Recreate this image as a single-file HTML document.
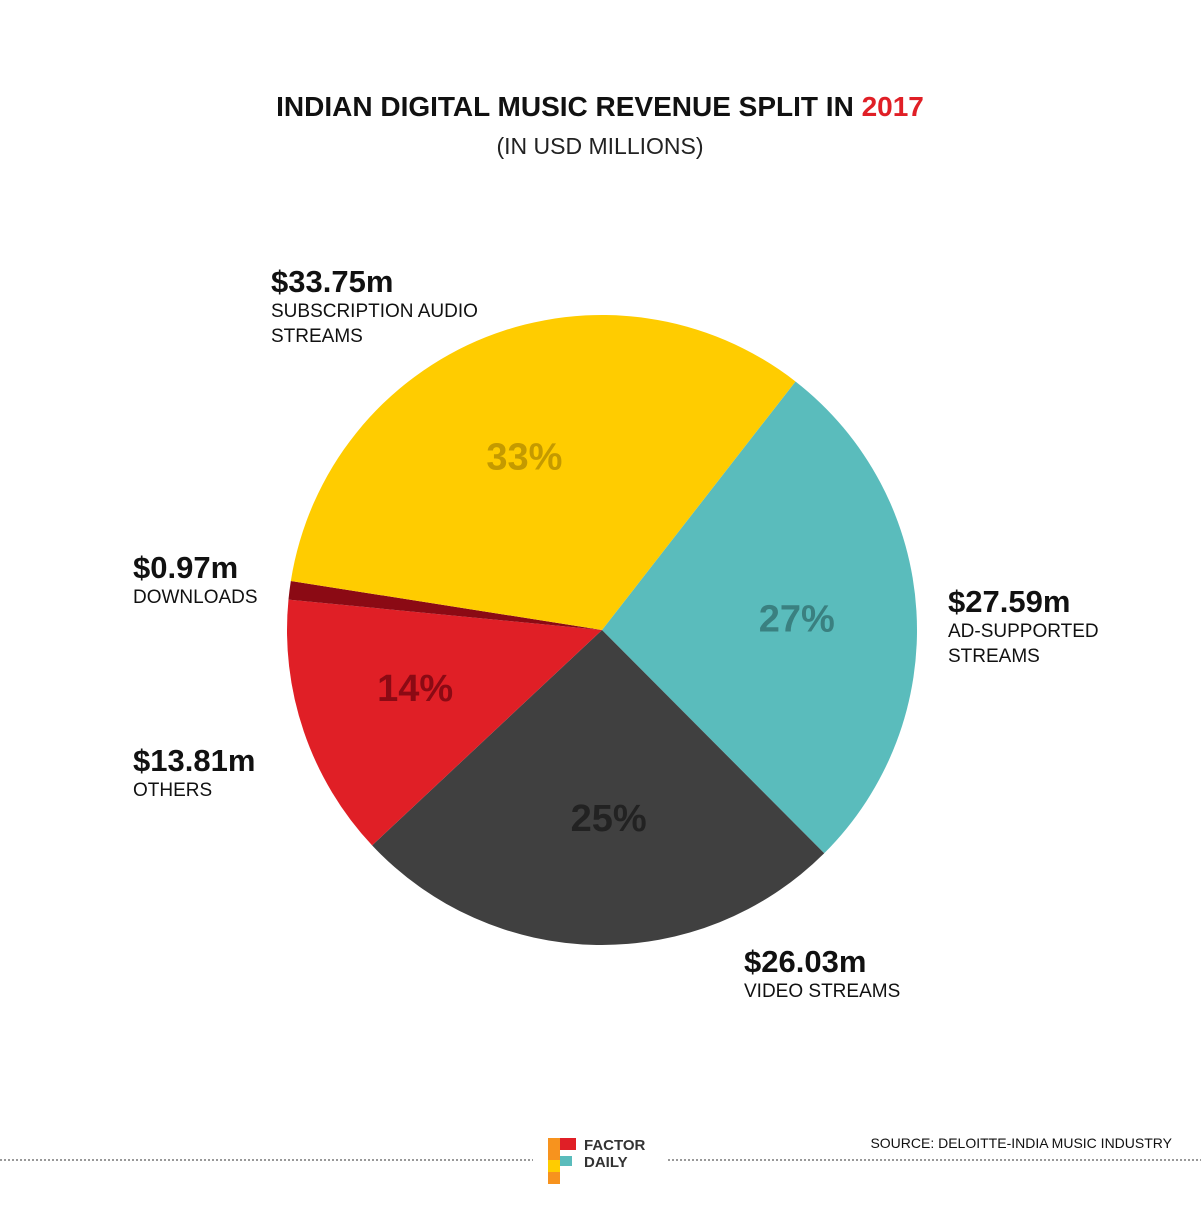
<!DOCTYPE html>
<html><head><meta charset="utf-8"><style>
body{margin:0;background:#fff;font-family:"Liberation Sans",sans-serif}
</style></head><body>
<svg width="1201" height="1200" xmlns="http://www.w3.org/2000/svg">
<text x="600" y="116" text-anchor="middle" font-size="28" font-weight="bold" fill="#111">INDIAN DIGITAL MUSIC REVENUE SPLIT IN <tspan fill="#e01f26">2017</tspan></text>
<text x="600" y="154" text-anchor="middle" font-size="23" fill="#222">(IN USD MILLIONS)</text>
<g id="pie"></g>
<g id="labels"></g>
<line x1="0" y1="1160" x2="533" y2="1160" stroke="#333" stroke-dasharray="2,2"/>
<line x1="668" y1="1160" x2="1201" y2="1160" stroke="#333" stroke-dasharray="2,2"/>
<g>
<rect x="548" y="1138" width="12" height="46" fill="#f7931e"/>
<rect x="560" y="1138" width="16" height="12" fill="#e01f26"/>
<rect x="560" y="1156" width="12" height="10" fill="#5abcbc"/>
<rect x="548" y="1160" width="12" height="12" fill="#fc0"/>
<text x="584" y="1150" font-size="15" font-weight="bold" fill="#333">FACTOR</text>
<text x="584" y="1167" font-size="15" font-weight="bold" fill="#333">DAILY</text>
</g>
<text x="1172" y="1148" text-anchor="end" font-size="14" fill="#111">SOURCE: DELOITTE-INDIA MUSIC INDUSTRY</text>
</svg>
<script>
const categories=["AD-SUPPORTED STREAMS","VIDEO STREAMS","OTHERS","DOWNLOADS","SUBSCRIPTION AUDIO STREAMS"];
const values=[27.59,26.03,13.81,0.97,33.75];
const valueLabels=["$27.59m","$26.03m","$13.81m","$0.97m","$33.75m"];
const pctLabels=["27%","25%","14%","","33%"];
const colors=["#5abcbc","#404040","#e01f26","#8b0a14","#ffcc00"];
const pctColors=["#3a8080","#222","#8b0a14","","#c49a00"];
const pctShift=[[3,0],[10,-4],[-5,-4],[0,0],[-7,5]];
const ns="http://www.w3.org/2000/svg";
const cx=602,cy=630,R=315,start=37.9;
const total=values.reduce((a,b)=>a+b,0);
function pt(a,r){const t=a*Math.PI/180;return [cx+r*Math.sin(t),cy-r*Math.cos(t)];}
const pie=document.getElementById('pie');
let a=start;
values.forEach((v,i)=>{
 const sw=v/total*360,a2=a+sw;
 const p1=pt(a,R),p2=pt(a2,R);
 const p=document.createElementNS(ns,'path');
 p.setAttribute('d',`M${cx},${cy}L${p1[0]},${p1[1]}A${R},${R} 0 ${sw>180?1:0} 1 ${p2[0]},${p2[1]}Z`);
 p.setAttribute('fill',colors[i]);
 
 
 pie.appendChild(p);
 if(pctLabels[i]){
  const m=pt(a+sw/2,R*0.61);
  const t=document.createElementNS(ns,'text');
  t.setAttribute('x',m[0]+pctShift[i][0]);t.setAttribute('y',m[1]+13+pctShift[i][1]);
  t.setAttribute('text-anchor','middle');t.setAttribute('font-size','38');t.setAttribute('font-weight','bold');
  t.setAttribute('fill',pctColors[i]);t.textContent=pctLabels[i];
  
  
  pie.appendChild(t);
 }
 a=a2;
});
const labelPos=[[948,612,["AD-SUPPORTED","STREAMS"]],[744,972,["VIDEO STREAMS"]],[133,771,["OTHERS"]],[133,578,["DOWNLOADS"]],[271,292,["SUBSCRIPTION AUDIO","STREAMS"]]];
const lg=document.getElementById('labels');
labelPos.forEach((lp,i)=>{
 const t=document.createElementNS(ns,'text');
 t.setAttribute('x',lp[0]);t.setAttribute('y',lp[1]);t.setAttribute('font-size','31');t.setAttribute('font-weight','bold');t.setAttribute('fill','#111');
 t.textContent=valueLabels[i];
 
 
 lg.appendChild(t);
 lp[2].forEach((s,j)=>{
  const u=document.createElementNS(ns,'text');
  u.setAttribute('x',lp[0]);u.setAttribute('y',lp[1]+25+j*25);u.setAttribute('font-size','19');u.setAttribute('fill','#111');
  u.textContent=s;
  
  
  lg.appendChild(u);
 });
});
</script>
</body></html>
